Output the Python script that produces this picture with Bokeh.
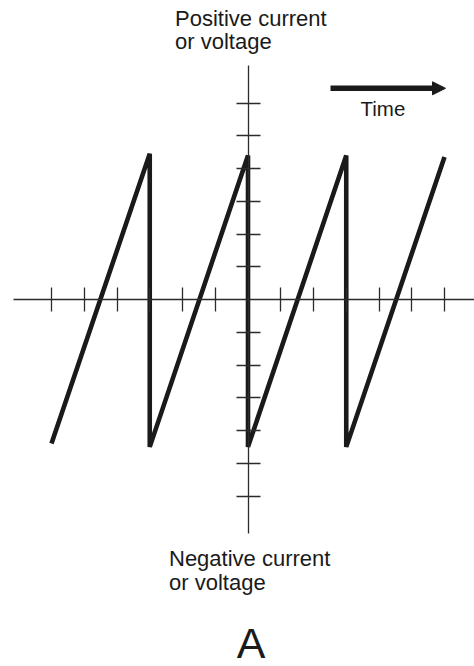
from bokeh.plotting import figure
from bokeh.models import FixedTicker, Label, Arrow, NormalHead, Range1d
from bokeh.embed import file_html
from bokeh.resources import INLINE

# ---- data (in tick units) ----
saw_x = [-6, -3, -3, 0, 0, 3, 3, 6]
saw_y = [-4.4, 4.45, -4.5, 4.4, -4.5, 4.4, -4.5, 4.35]
x_ticks = [-6, -5, -4, -3, -2, -1, 1, 2, 3, 4, 5, 6]
y_ticks = [-6, -5, -4, -3, -2, -1, 1, 2, 3, 4, 5, 6]
top_label = ["Positive current", "or voltage"]
bottom_label = ["Negative current", "or voltage"]
arrow_label = "Time"
panel_label = "A"

# ---- layout ----
UNIT = 32.75          # pixels per tick unit
OX, OY = 247.5, 299   # origin in canvas pixels
W, H = 474, 666

p = figure(width=W, height=H, output_backend="svg", toolbar_location=None,
           min_border=0, outline_line_color=None,
           x_range=Range1d(-OX / UNIT, (W - OX) / UNIT),
           y_range=Range1d(-(H - OY) / UNIT, OY / UNIT))
p.grid.visible = False
p.background_fill_color = "white"
p.border_fill_color = "white"

FONT = "Liberation Sans"
INK = "#1a1a1a"
AX = "#2b2b2b"

for ax, ticks, bounds in ((p.xaxis[0], x_ticks, (-7.16, 7.3)),
                          (p.yaxis[0], y_ticks, (-7.15, 7.15))):
    ax.fixed_location = 0
    ax.ticker = FixedTicker(ticks=ticks)
    ax.bounds = bounds
    ax.axis_line_color = AX
    ax.axis_line_width = 1.3
    ax.major_tick_line_color = AX
    ax.major_tick_line_width = 1.3
    ax.major_tick_in = 12
    ax.major_tick_out = 12
    ax.minor_tick_line_color = None
    ax.major_label_text_color = None
    ax.major_label_text_font_size = "0px"

# sawtooth
p.line(saw_x, saw_y, line_width=4.6, line_color=INK, line_join="bevel")

def ypx(py, shift=9):
    return (OY - (py - shift)) / UNIT

def xpx(px):
    return (px - OX) / UNIT

# arrow "Time"
p.add_layout(Arrow(x_start=xpx(330), y_start=(OY - 87.8) / UNIT, x_end=xpx(445),
                   y_end=(OY - 87.8) / UNIT, line_width=5.6, line_color=INK,
                   end=NormalHead(size=13, fill_color=INK, line_color=INK, line_width=1)))
p.add_layout(Label(x=xpx(360), y=ypx(116.7, 8.5), text=arrow_label, text_font=FONT,
                   text_font_size="20.5px", text_color=INK, text_baseline="alphabetic"))

# top label
for i, t in enumerate(top_label):
    p.add_layout(Label(x=xpx(174.5), y=ypx(27.3 + 22.7 * i), text=t,
                       text_font=FONT, text_font_size="22px", text_color=INK,
                       text_baseline="alphabetic"))
# bottom label
for i, t in enumerate(bottom_label):
    p.add_layout(Label(x=xpx(168.5), y=ypx(567.3 + 23.4 * i), text=t,
                       text_font=FONT, text_font_size="22px", text_color=INK,
                       text_baseline="alphabetic"))

# panel letter
p.add_layout(Label(x=xpx(250.5), y=ypx(660, 17.5), text=panel_label, text_font=FONT,
                   text_font_size="43px", text_color=INK, text_align="center",
                   text_baseline="alphabetic"))

open("out.html", "w").write(file_html(p, INLINE))
